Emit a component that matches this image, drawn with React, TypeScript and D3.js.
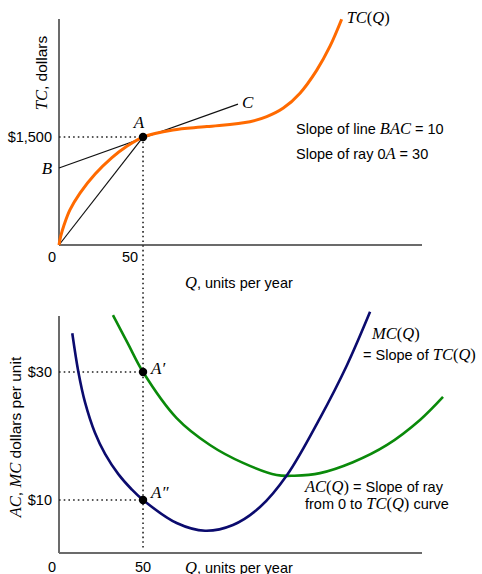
import * as d3 from "d3";

// Q (units per year) and TC (dollars)
const tcQ = [0, 1, 3, 6.5, 12.5, 21.5, 31.5, 39.5, 50, 67.8, 88, 113.6, 123.6, 133.5, 143.4, 153.3, 161.2, 168.2];
const tcVal = [0, 120, 278, 488, 722, 986, 1214, 1358, 1500, 1598, 1645, 1713, 1783, 1902, 2110, 2427, 2759, 3137];

// tangent line BAC and ray 0A
const lineBAC = [
  [0, 1069],
  [106.5, 1958],
];
const ray0A = [
  [0, 0],
  [50, 1500],
];

// bottom panel, dollars per unit
const mcQ = [7.9, 11.5, 15.5, 21.4, 27.4, 35.3, 43.3, 50, 70, 86.9, 103.5, 119.6, 135.7, 155.3, 171.4, 185.1];
const mcVal = [36.05, 30.05, 25.25, 20.5, 17.2, 14.04, 11.64, 10, 6.4, 5.2, 6.1, 8.9, 13.9, 22.8, 31.1, 39.4];
const acQ = [32.1, 41.1, 50, 70, 89.8, 109.5, 129.5, 140, 155.3, 174.9, 195.2, 214.8, 228.5];
const acVal = [38.9, 34.4, 30, 22.8, 18.6, 15.8, 13.9, 13.8, 14.2, 15.9, 18.6, 22.5, 26.1];

const xTicks = [0, 50];
const topYTicks = [1500];
const botYTicks = [10, 30];

const SANS = "'Liberation Sans', Arial, sans-serif";
const SERIF = "'Liberation Serif', 'Times New Roman', serif";
const AXIS = "#6b6b6b";

export default function App() {
  const W = 482;
  const H = 574;

  const x = d3.scaleLinear().domain([0, 216]).range([59, 422]);
  const yTop = d3.scaleLinear().domain([0, 3140]).range([245, 19]);
  const yBot = d3.scaleLinear().domain([1.72, 38.75]).range([553, 316]);

  const curve = (ys: d3.ScaleLinear<number, number>) =>
    d3
      .line<number[]>()
      .x((d) => x(d[0]))
      .y((d) => ys(d[1]))
      .curve(d3.curveCatmullRom.alpha(0.5));
  const straight = (ys: d3.ScaleLinear<number, number>) =>
    d3
      .line<number[]>()
      .x((d) => x(d[0]))
      .y((d) => ys(d[1]));

  const tcPath = curve(yTop)(tcQ.map((q, i) => [q, tcVal[i]])) || "";
  const mcPath = curve(yBot)(mcQ.map((q, i) => [q, mcVal[i]])) || "";
  const acPath = curve(yBot)(acQ.map((q, i) => [q, acVal[i]])) || "";

  const dotted = { stroke: "#222", strokeWidth: 1.6, strokeDasharray: "1.6 3.1", fill: "none" };

  const ax50 = x(50);
  const big = 16.5;

  return (
    <svg width={W} height={H} style={{ position: "absolute", left: 0, top: 0, background: "#fff" }}>
      {/* ---------- top panel ---------- */}
      <line x1={x(0)} x2={x(216)} y1={yTop(0)} y2={yTop(0)} stroke={AXIS} strokeWidth={2} />
      <line x1={x(0)} x2={x(0)} y1={yTop(0)} y2={yTop(3140)} stroke={AXIS} strokeWidth={2} />

      {/* guides through A, continuing into lower panel */}
      <line x1={x(0)} x2={ax50} y1={yTop(1500)} y2={yTop(1500)} {...dotted} />
      <line x1={ax50} x2={ax50} y1={yTop(1500)} y2={yBot(1.72) - 3} {...dotted} />

      <path d={straight(yTop)(lineBAC) || ""} stroke="#111" strokeWidth={1.2} fill="none" />
      <path d={straight(yTop)(ray0A) || ""} stroke="#111" strokeWidth={1.2} fill="none" />
      <path d={tcPath} stroke="#ff6a00" strokeWidth={3} fill="none" />
      <circle cx={ax50} cy={yTop(1500)} r={4.2} fill="#000" />

      {topYTicks.map((t) => (
        <text key={t} x={x(0) - 7} y={yTop(t) + 5} textAnchor="end" fontFamily={SANS} fontSize={14.5}>
          ${d3.format(",")(t)}
        </text>
      ))}
      {xTicks.map((t) => (
        <text key={t} x={x(t) - (t === 0 ? 7 : 13)} y={yTop(0) + 17} textAnchor="middle" fontFamily={SANS} fontSize={14.5}>
          {t}
        </text>
      ))}

      <text transform={`translate(47,73) rotate(-90)`} textAnchor="middle" fontSize={15.5} fontFamily={SANS}>
        <tspan fontFamily={SERIF} fontStyle="italic" fontSize={big}>TC</tspan>, dollars
      </text>
      <text x={185} y={288} fontSize={14.5} fontFamily={SANS}>
        <tspan fontFamily={SERIF} fontStyle="italic" fontSize={big}>Q</tspan>, units per year
      </text>

      <text x={ax50 - 4} y={yTop(1500) - 9} textAnchor="middle" fontFamily={SERIF} fontStyle="italic" fontSize={17}>
        A
      </text>
      <text x={x(0) - 12} y={yTop(lineBAC[0][1]) + 6} textAnchor="middle" fontFamily={SERIF} fontStyle="italic" fontSize={17}>
        B
      </text>
      <text x={x(lineBAC[1][0]) + 4} y={yTop(lineBAC[1][1]) + 4} fontFamily={SERIF} fontStyle="italic" fontSize={17}>
        C
      </text>
      <text x={x(tcQ[tcQ.length - 1]) + 5} y={23} fontFamily={SERIF} fontSize={big}>
        <tspan fontStyle="italic">TC</tspan>(<tspan fontStyle="italic">Q</tspan>)
      </text>

      <text x={296} y={134} fontFamily={SANS} fontSize={14.5}>
        Slope of line <tspan fontFamily={SERIF} fontStyle="italic" fontSize={big}>BAC</tspan> = 10
      </text>
      <text x={296} y={159} fontFamily={SANS} fontSize={14.5}>
        Slope of ray 0<tspan fontFamily={SERIF} fontStyle="italic" fontSize={big}>A</tspan> = 30
      </text>

      {/* ---------- bottom panel ---------- */}
      <line x1={x(0)} x2={x(216)} y1={yBot(1.72)} y2={yBot(1.72)} stroke={AXIS} strokeWidth={2} />
      <line x1={x(0)} x2={x(0)} y1={yBot(1.72)} y2={yBot(38.75)} stroke={AXIS} strokeWidth={2} />

      {botYTicks.map((t) => (
        <line key={t} x1={x(0)} x2={ax50} y1={yBot(t)} y2={yBot(t)} {...dotted} />
      ))}

      <path d={acPath} stroke="#0a8a0a" strokeWidth={2.6} fill="none" />
      <path d={mcPath} stroke="#0b0b6e" strokeWidth={2.6} fill="none" />
      {botYTicks.map((t) => (
        <circle key={t} cx={ax50} cy={yBot(t)} r={4.2} fill="#000" />
      ))}

      {botYTicks.map((t) => (
        <text key={t} x={x(0) - 7} y={yBot(t) + 5} textAnchor="end" fontFamily={SANS} fontSize={14.5}>
          ${t}
        </text>
      ))}
      {xTicks.map((t) => (
        <text key={t} x={t === 0 ? x(t) - 7 : x(t)} y={yBot(1.72) + 19} textAnchor="middle" fontFamily={SANS} fontSize={14.5}>
          {t}
        </text>
      ))}
      <text x={185} y={573} fontSize={14.5} fontFamily={SANS}>
        <tspan fontFamily={SERIF} fontStyle="italic" fontSize={big}>Q</tspan>, units per year
      </text>

      <text transform={`translate(21,437) rotate(-90)`} textAnchor="middle" fontSize={15.5} fontFamily={SANS}>
        <tspan fontFamily={SERIF} fontStyle="italic" fontSize={big}>AC</tspan>,{" "}
        <tspan fontFamily={SERIF} fontStyle="italic" fontSize={big}>MC</tspan> dollars per unit
      </text>

      <text x={ax50 + 8} y={yBot(30) + 2} fontFamily={SERIF} fontStyle="italic" fontSize={17}>
        A′
      </text>
      <text x={ax50 + 8} y={yBot(10) - 2} fontFamily={SERIF} fontStyle="italic" fontSize={17}>
        A″
      </text>

      <text x={372} y={339} fontFamily={SERIF} fontSize={big}>
        <tspan fontStyle="italic">MC</tspan>(<tspan fontStyle="italic">Q</tspan>)
      </text>
      <text x={363} y={360} fontFamily={SANS} fontSize={14.5}>
        = Slope of <tspan fontFamily={SERIF} fontStyle="italic" fontSize={big}>TC</tspan>
        <tspan fontFamily={SERIF} fontSize={big}>(</tspan>
        <tspan fontFamily={SERIF} fontStyle="italic" fontSize={big}>Q</tspan>
        <tspan fontFamily={SERIF} fontSize={big}>)</tspan>
      </text>

      <text x={305} y={492} fontFamily={SANS} fontSize={14.5}>
        <tspan fontFamily={SERIF} fontStyle="italic" fontSize={big}>AC</tspan>
        <tspan fontFamily={SERIF} fontSize={big}>(</tspan>
        <tspan fontFamily={SERIF} fontStyle="italic" fontSize={big}>Q</tspan>
        <tspan fontFamily={SERIF} fontSize={big}>)</tspan> = Slope of ray
      </text>
      <text x={305} y={509} fontFamily={SANS} fontSize={14.5}>
        from 0 to <tspan fontFamily={SERIF} fontStyle="italic" fontSize={big}>TC</tspan>
        <tspan fontFamily={SERIF} fontSize={big}>(</tspan>
        <tspan fontFamily={SERIF} fontStyle="italic" fontSize={big}>Q</tspan>
        <tspan fontFamily={SERIF} fontSize={big}>)</tspan> curve
      </text>
    </svg>
  );
}
